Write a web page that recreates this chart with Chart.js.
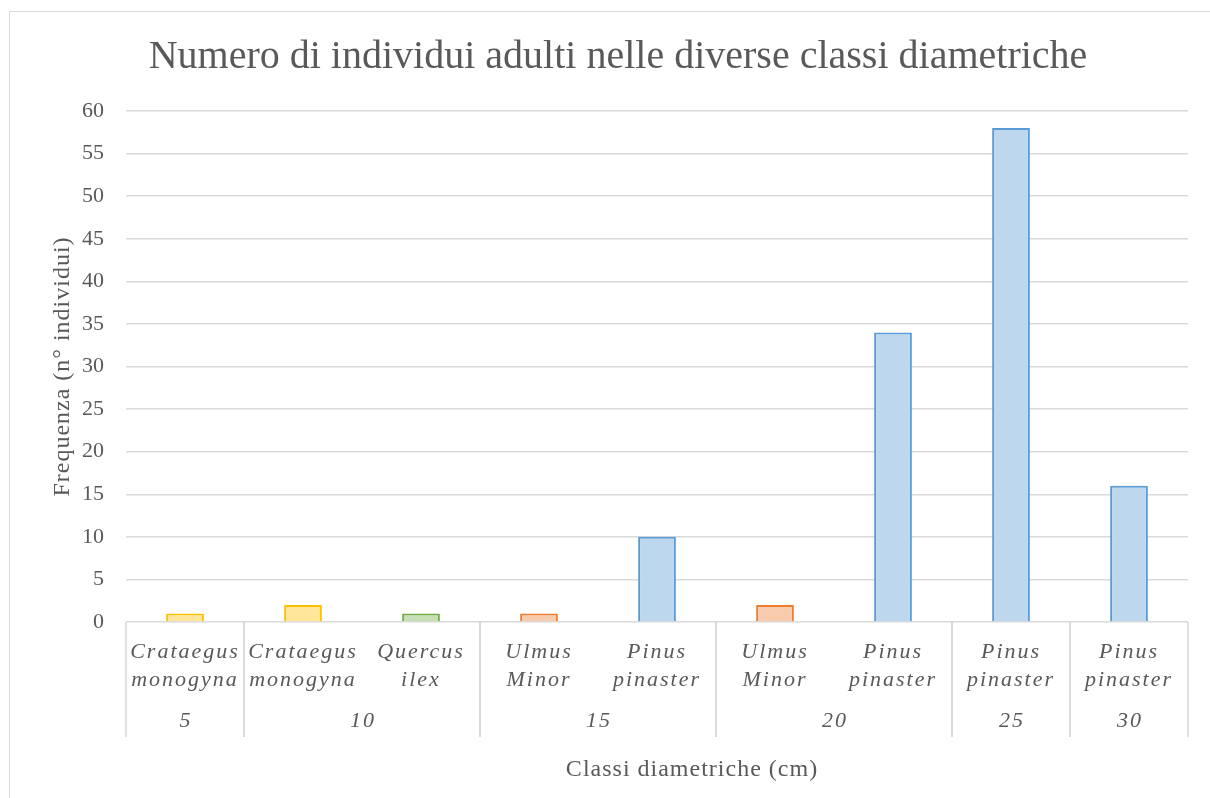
<!DOCTYPE html>
<html>
<head>
<meta charset="utf-8">
<script src="https://cdn.jsdelivr.net/npm/chart.js@4"></script>
<style>
  html, body { margin: 0; padding: 0; background: #fff; }
  #wrap { position: relative; width: 1210px; height: 798px; }
  #frame { position: absolute; left: 9px; top: 11px; width: 1220px; height: 800px; border: 1px solid #d9d9d9; box-sizing: border-box; pointer-events: none; }
  canvas { position: absolute; left: 0; top: 0; }
</style>
</head>
<body>
<div id="wrap">
  <div id="frame"></div>
  <canvas id="chart" width="1210" height="798"></canvas>
</div>
<script>
// diameter class of each bar, species label and number of adult trees
const classes = ['5', '10', '10', '15', '15', '20', '20', '25', '30'];
const species = [
  ['Crataegus', 'monogyna'],
  ['Crataegus', 'monogyna'],
  ['Quercus', 'ilex'],
  ['Ulmus', 'Minor'],
  ['Pinus', 'pinaster'],
  ['Ulmus', 'Minor'],
  ['Pinus', 'pinaster'],
  ['Pinus', 'pinaster'],
  ['Pinus', 'pinaster']
];
const counts = [1, 2, 1, 1, 10, 2, 34, 58, 16];

// colours per species (fill, outline)
const speciesColors = {
  Crataegus: ['#FFE699', '#FFC000'],
  Quercus: ['#C5E0B4', '#70AD47'],
  Ulmus: ['#F8CBAD', '#ED7D31'],
  Pinus: ['#BDD7EE', '#5B9BD5']
};

const SERIF = "'Liberation Serif', 'Times New Roman', serif";
const TEXT = '#595959';
const LINE = '#d9d9d9';

// wrap a scale draw method so its text gets letter spacing (and an optional shift)
function spaced(scale, method, spacing, dx, dy) {
  const orig = Object.getPrototypeOf(scale)[method];
  scale[method] = function (...args) {
    const ctx = this.ctx;
    ctx.save();
    ctx.letterSpacing = spacing;
    ctx.translate(dx || 0, dy || 0);
    orig.apply(this, args);
    ctx.restore();
  };
}

// second row of the category axis: diameter classes spanning their bars
const classRow = {
  id: 'classRow',
  afterDraw(chart) {
    const x = chart.scales.x;
    const ctx = chart.ctx;
    const half = (x.right - x.left) / classes.length / 2;
    const top = chart.chartArea.bottom;
    ctx.save();
    ctx.strokeStyle = LINE;
    ctx.lineWidth = 1.5;
    ctx.fillStyle = TEXT;
    ctx.font = 'italic 22px ' + SERIF;
    ctx.letterSpacing = '2px';
    ctx.textAlign = 'center';
    ctx.textBaseline = 'middle';
    let start = 0;
    for (let i = 1; i <= classes.length; i++) {
      if (i === classes.length || classes[i] !== classes[start]) {
        const l = x.getPixelForValue(start) - half;
        const r = x.getPixelForValue(i - 1) + half;
        [l, r].forEach(px => {
          ctx.beginPath();
          ctx.moveTo(px, top);
          ctx.lineTo(px, top + 115);
          ctx.stroke();
        });
        ctx.fillText(classes[start], (l + r) / 2 + 1, top + 99);
        start = i;
      }
    }
    ctx.restore();
  }
};

new Chart(document.getElementById('chart'), {
  type: 'bar',
  data: {
    labels: species,
    datasets: [{
      data: counts,
      backgroundColor: species.map(s => speciesColors[s[0]][0]),
      borderColor: species.map(s => speciesColors[s[0]][1]),
      borderWidth: 2,
      barPercentage: 0.32,
      categoryPercentage: 1
    }]
  },
  options: {
    responsive: false,
    animation: false,
    layout: { padding: { left: 48, right: 22, top: 20, bottom: 12 } },
    plugins: {
      legend: { display: false },
      tooltip: { enabled: false },
      title: {
        display: true,
        text: 'Numero di individui adulti nelle diverse classi diametriche',
        color: TEXT,
        font: { family: SERIF, size: 40, weight: 'normal' },
        padding: { top: 13, bottom: 30 }
      }
    },
    scales: {
      x: {
        grid: { display: false, drawTicks: false },
        border: { display: false },
        ticks: {
          color: TEXT,
          padding: 16,
          maxRotation: 0,
          autoSkip: false,
          font: { family: SERIF, size: 22, style: 'italic', lineHeight: 1.27 }
        },
        title: {
          display: true,
          text: 'Classi diametriche (cm)',
          color: TEXT,
          font: { family: SERIF, size: 24 },
          padding: { top: 0, bottom: 6 }
        },
        afterFit(scale) {
          scale.height = 164;
          spaced(scale, 'drawLabels', '2px');
          spaced(scale, 'drawTitle', '1px', 35, 4);
        }
      },
      y: {
        min: 0,
        max: 60,
        ticks: {
          stepSize: 5,
          color: TEXT,
          padding: 22,
          font: { family: SERIF, size: 22 }
        },
        grid: { color: LINE, lineWidth: 1.5, drawTicks: false },
        border: { display: false },
        title: {
          display: true,
          text: 'Frequenza (n° individui)',
          color: TEXT,
          font: { family: SERIF, size: 24 },
          padding: { top: 0, bottom: 4 }
        },
        afterFit(scale) {
          scale.width = 78;
          spaced(scale, 'drawTitle', '1px');
        }
      }
    }
  },
  plugins: [classRow]
});
</script>
</body>
</html>
